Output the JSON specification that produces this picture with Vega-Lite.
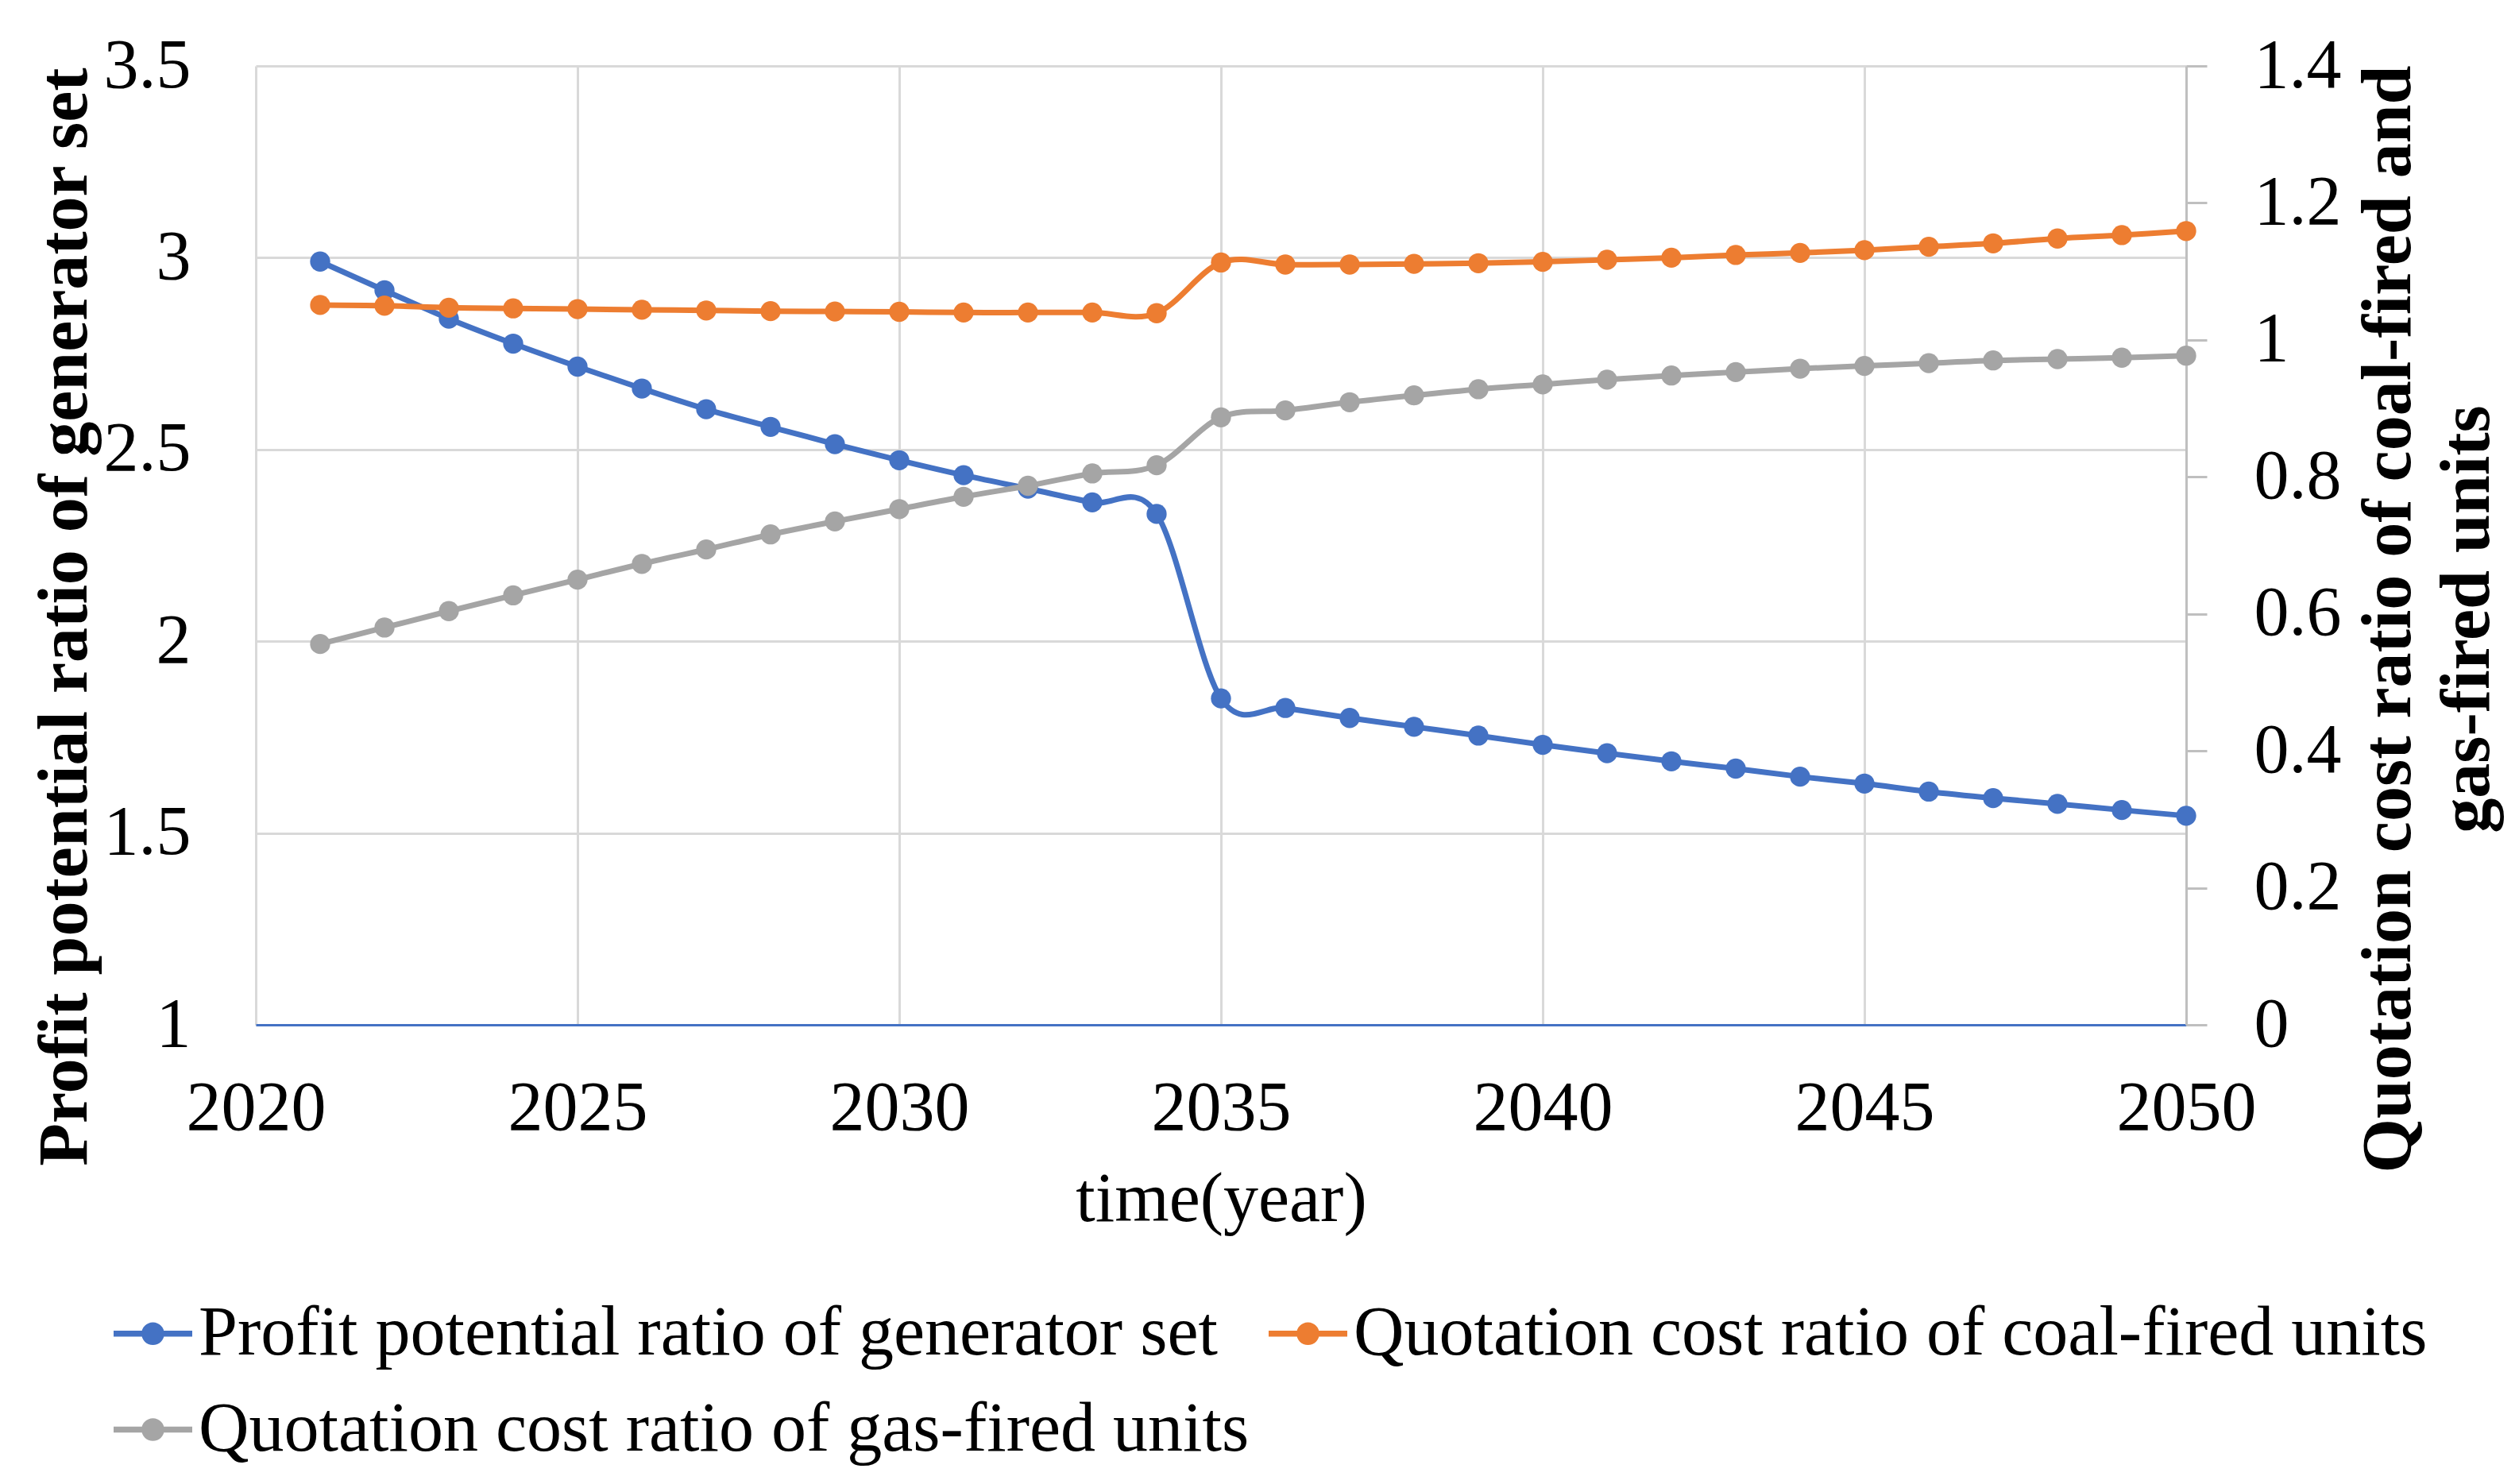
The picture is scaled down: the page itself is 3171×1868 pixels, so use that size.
{
  "$schema": "https://vega.github.io/schema/vega-lite/v6.json",
  "width": 2430,
  "height": 1207,
  "autosize": {"type": "none"},
  "padding": {"left": 322, "top": 83, "right": 419, "bottom": 578},
  "background": "white",
  "data": {
    "values": [
      {"year": 2021, "series": "Profit potential ratio of generator set", "value": 2.99},
      {"year": 2022, "series": "Profit potential ratio of generator set", "value": 2.915},
      {"year": 2023, "series": "Profit potential ratio of generator set", "value": 2.841},
      {"year": 2024, "series": "Profit potential ratio of generator set", "value": 2.776},
      {"year": 2025, "series": "Profit potential ratio of generator set", "value": 2.716},
      {"year": 2026, "series": "Profit potential ratio of generator set", "value": 2.659},
      {"year": 2027, "series": "Profit potential ratio of generator set", "value": 2.605},
      {"year": 2028, "series": "Profit potential ratio of generator set", "value": 2.559},
      {"year": 2029, "series": "Profit potential ratio of generator set", "value": 2.514},
      {"year": 2030, "series": "Profit potential ratio of generator set", "value": 2.472},
      {"year": 2031, "series": "Profit potential ratio of generator set", "value": 2.433},
      {"year": 2032, "series": "Profit potential ratio of generator set", "value": 2.398},
      {"year": 2033, "series": "Profit potential ratio of generator set", "value": 2.362},
      {"year": 2034, "series": "Profit potential ratio of generator set", "value": 2.332},
      {"year": 2035, "series": "Profit potential ratio of generator set", "value": 1.851},
      {"year": 2036, "series": "Profit potential ratio of generator set", "value": 1.826},
      {"year": 2037, "series": "Profit potential ratio of generator set", "value": 1.8},
      {"year": 2038, "series": "Profit potential ratio of generator set", "value": 1.777},
      {"year": 2039, "series": "Profit potential ratio of generator set", "value": 1.754},
      {"year": 2040, "series": "Profit potential ratio of generator set", "value": 1.73},
      {"year": 2041, "series": "Profit potential ratio of generator set", "value": 1.708},
      {"year": 2042, "series": "Profit potential ratio of generator set", "value": 1.687},
      {"year": 2043, "series": "Profit potential ratio of generator set", "value": 1.668},
      {"year": 2044, "series": "Profit potential ratio of generator set", "value": 1.647},
      {"year": 2045, "series": "Profit potential ratio of generator set", "value": 1.629},
      {"year": 2046, "series": "Profit potential ratio of generator set", "value": 1.608},
      {"year": 2047, "series": "Profit potential ratio of generator set", "value": 1.591},
      {"year": 2048, "series": "Profit potential ratio of generator set", "value": 1.576},
      {"year": 2049, "series": "Profit potential ratio of generator set", "value": 1.56},
      {"year": 2050, "series": "Profit potential ratio of generator set", "value": 1.545},
      {"year": 2021, "series": "Quotation cost ratio of coal-fired units", "value": 1.051},
      {"year": 2022, "series": "Quotation cost ratio of coal-fired units", "value": 1.05},
      {"year": 2023, "series": "Quotation cost ratio of coal-fired units", "value": 1.047},
      {"year": 2024, "series": "Quotation cost ratio of coal-fired units", "value": 1.046},
      {"year": 2025, "series": "Quotation cost ratio of coal-fired units", "value": 1.045},
      {"year": 2026, "series": "Quotation cost ratio of coal-fired units", "value": 1.044},
      {"year": 2027, "series": "Quotation cost ratio of coal-fired units", "value": 1.043},
      {"year": 2028, "series": "Quotation cost ratio of coal-fired units", "value": 1.042},
      {"year": 2029, "series": "Quotation cost ratio of coal-fired units", "value": 1.0415},
      {"year": 2030, "series": "Quotation cost ratio of coal-fired units", "value": 1.041},
      {"year": 2031, "series": "Quotation cost ratio of coal-fired units", "value": 1.04},
      {"year": 2032, "series": "Quotation cost ratio of coal-fired units", "value": 1.04},
      {"year": 2033, "series": "Quotation cost ratio of coal-fired units", "value": 1.04},
      {"year": 2034, "series": "Quotation cost ratio of coal-fired units", "value": 1.039},
      {"year": 2035, "series": "Quotation cost ratio of coal-fired units", "value": 1.113},
      {"year": 2036, "series": "Quotation cost ratio of coal-fired units", "value": 1.11},
      {"year": 2037, "series": "Quotation cost ratio of coal-fired units", "value": 1.11},
      {"year": 2038, "series": "Quotation cost ratio of coal-fired units", "value": 1.111},
      {"year": 2039, "series": "Quotation cost ratio of coal-fired units", "value": 1.112},
      {"year": 2040, "series": "Quotation cost ratio of coal-fired units", "value": 1.114},
      {"year": 2041, "series": "Quotation cost ratio of coal-fired units", "value": 1.117},
      {"year": 2042, "series": "Quotation cost ratio of coal-fired units", "value": 1.12},
      {"year": 2043, "series": "Quotation cost ratio of coal-fired units", "value": 1.124},
      {"year": 2044, "series": "Quotation cost ratio of coal-fired units", "value": 1.127},
      {"year": 2045, "series": "Quotation cost ratio of coal-fired units", "value": 1.131},
      {"year": 2046, "series": "Quotation cost ratio of coal-fired units", "value": 1.136},
      {"year": 2047, "series": "Quotation cost ratio of coal-fired units", "value": 1.141},
      {"year": 2048, "series": "Quotation cost ratio of coal-fired units", "value": 1.148},
      {"year": 2049, "series": "Quotation cost ratio of coal-fired units", "value": 1.153},
      {"year": 2050, "series": "Quotation cost ratio of coal-fired units", "value": 1.159},
      {"year": 2021, "series": "Quotation cost ratio of gas-fired units", "value": 0.556},
      {"year": 2022, "series": "Quotation cost ratio of gas-fired units", "value": 0.58},
      {"year": 2023, "series": "Quotation cost ratio of gas-fired units", "value": 0.604},
      {"year": 2024, "series": "Quotation cost ratio of gas-fired units", "value": 0.627},
      {"year": 2025, "series": "Quotation cost ratio of gas-fired units", "value": 0.65},
      {"year": 2026, "series": "Quotation cost ratio of gas-fired units", "value": 0.673},
      {"year": 2027, "series": "Quotation cost ratio of gas-fired units", "value": 0.694},
      {"year": 2028, "series": "Quotation cost ratio of gas-fired units", "value": 0.716},
      {"year": 2029, "series": "Quotation cost ratio of gas-fired units", "value": 0.735},
      {"year": 2030, "series": "Quotation cost ratio of gas-fired units", "value": 0.753},
      {"year": 2031, "series": "Quotation cost ratio of gas-fired units", "value": 0.771},
      {"year": 2032, "series": "Quotation cost ratio of gas-fired units", "value": 0.787},
      {"year": 2033, "series": "Quotation cost ratio of gas-fired units", "value": 0.805},
      {"year": 2034, "series": "Quotation cost ratio of gas-fired units", "value": 0.817},
      {"year": 2035, "series": "Quotation cost ratio of gas-fired units", "value": 0.887},
      {"year": 2036, "series": "Quotation cost ratio of gas-fired units", "value": 0.897},
      {"year": 2037, "series": "Quotation cost ratio of gas-fired units", "value": 0.909},
      {"year": 2038, "series": "Quotation cost ratio of gas-fired units", "value": 0.919},
      {"year": 2039, "series": "Quotation cost ratio of gas-fired units", "value": 0.928},
      {"year": 2040, "series": "Quotation cost ratio of gas-fired units", "value": 0.935},
      {"year": 2041, "series": "Quotation cost ratio of gas-fired units", "value": 0.942},
      {"year": 2042, "series": "Quotation cost ratio of gas-fired units", "value": 0.948},
      {"year": 2043, "series": "Quotation cost ratio of gas-fired units", "value": 0.953},
      {"year": 2044, "series": "Quotation cost ratio of gas-fired units", "value": 0.958},
      {"year": 2045, "series": "Quotation cost ratio of gas-fired units", "value": 0.962},
      {"year": 2046, "series": "Quotation cost ratio of gas-fired units", "value": 0.966},
      {"year": 2047, "series": "Quotation cost ratio of gas-fired units", "value": 0.97},
      {"year": 2048, "series": "Quotation cost ratio of gas-fired units", "value": 0.972},
      {"year": 2049, "series": "Quotation cost ratio of gas-fired units", "value": 0.974},
      {"year": 2050, "series": "Quotation cost ratio of gas-fired units", "value": 0.977}
    ]
  },
  "encoding": {
    "x": {
      "field": "year",
      "type": "quantitative",
      "scale": {"domain": [2020, 2050], "nice": false, "zero": false},
      "axis": {
        "title": "time(year)",
        "values": [2020, 2025, 2030, 2035, 2040, 2045, 2050],
        "format": "d",
        "labelFlush": false,
        "labelOverlap": false,
        "ticks": false,
        "tickSize": 0,
        "labelPadding": 61,
        "grid": true,
        "gridColor": "#D9D9D9",
        "gridWidth": 3,
        "domain": true,
        "domainColor": "#4472C4",
        "domainWidth": 3,
        "titleFontWeight": "normal",
        "titleBaseline": "alphabetic",
        "titleX": 1215,
        "titleY": 246,
        "titleAlign": "center"
      }
    },
    "color": {
      "field": "series",
      "type": "nominal",
      "scale": {
        "domain": ["Profit potential ratio of generator set", "Quotation cost ratio of coal-fired units", "Quotation cost ratio of gas-fired units"],
        "range": ["#4472C4", "#ED7D31", "#A5A5A5"]
      },
      "legend": {
        "title": null,
        "orient": "none",
        "legendX": -179,
        "legendY": 1546,
        "direction": "horizontal",
        "columns": 2,
        "columnPadding": 24,
        "rowPadding": 27,
        "padding": 0,
        "symbolType": "M-1,-0.075H1V0.075H-1Z M0.29,0A0.29,0.29 0 1,1 -0.29,0A0.29,0.29 0 1,1 0.29,0Z",
        "symbolSize": 9801,
        "symbolStrokeWidth": 0,
        "labelOffset": 8,
        "labelLimit": 3000,
        "labelFont": "Liberation Serif",
        "labelFontSize": 88,
        "labelColor": "#000000",
        "encode": {
          "symbols": {
            "update": {
              "fill": {"scale": "color", "field": "value"},
              "stroke": {"value": "transparent"},
              "opacity": {"value": 1}
            }
          }
        }
      }
    }
  },
  "layer": [
    {
      "transform": [{"filter": "datum.series === 'Profit potential ratio of generator set'"}],
      "mark": {"type": "line", "interpolate": "cardinal", "strokeWidth": 7, "point": {"filled": true, "size": 640, "opacity": 1}},
      "encoding": {
        "y": {
          "field": "value",
          "type": "quantitative",
          "scale": {"domain": [1, 3.5], "nice": false, "zero": false},
          "axis": {
            "orient": "left",
            "title": "Profit potential ratio of generator set",
            "values": [1, 1.5, 2, 2.5, 3, 3.5],
            "format": "~g",
            "ticks": false,
            "tickSize": 0,
            "domain": false,
            "labelPadding": 82,
            "grid": true,
            "gridColor": "#D9D9D9",
            "gridWidth": 3,
            "titleX": -214,
            "titleY": 693,
            "titleAngle": -90,
            "titleAlign": "center",
            "titleBaseline": "alphabetic",
            "titleFontWeight": "bold"
          }
        }
      }
    },
    {
      "transform": [{"filter": "datum.series !== 'Profit potential ratio of generator set'"}],
      "mark": {"type": "line", "interpolate": "cardinal", "strokeWidth": 7, "point": {"filled": true, "size": 640, "opacity": 1}},
      "encoding": {
        "y": {
          "field": "value",
          "type": "quantitative",
          "scale": {"domain": [0, 1.4], "nice": false, "zero": false},
          "axis": {
            "orient": "right",
            "title": ["Quotation cost ratio of coal-fired and", "gas-fired units"],
            "values": [0, 0.2, 0.4, 0.6, 0.8, 1, 1.2, 1.4],
            "format": "~g",
            "ticks": true,
            "tickSize": 26,
            "tickColor": "#BFBFBF",
            "tickWidth": 3,
            "domain": true,
            "domainColor": "#BFBFBF",
            "domainWidth": 3,
            "labelPadding": 59,
            "grid": false,
            "titleX": 281,
            "titleY": 696,
            "titleAngle": -90,
            "titleAlign": "center",
            "titleBaseline": "alphabetic",
            "titleLineHeight": 99,
            "titleFontWeight": "bold"
          }
        }
      }
    }
  ],
  "resolve": {"scale": {"y": "independent"}},
  "config": {
    "view": {"stroke": null},
    "font": "Liberation Serif",
    "axis": {
      "labelFont": "Liberation Serif",
      "labelFontSize": 88,
      "labelColor": "#000000",
      "titleFont": "Liberation Serif",
      "titleFontSize": 88,
      "titleColor": "#000000"
    }
  }
}
